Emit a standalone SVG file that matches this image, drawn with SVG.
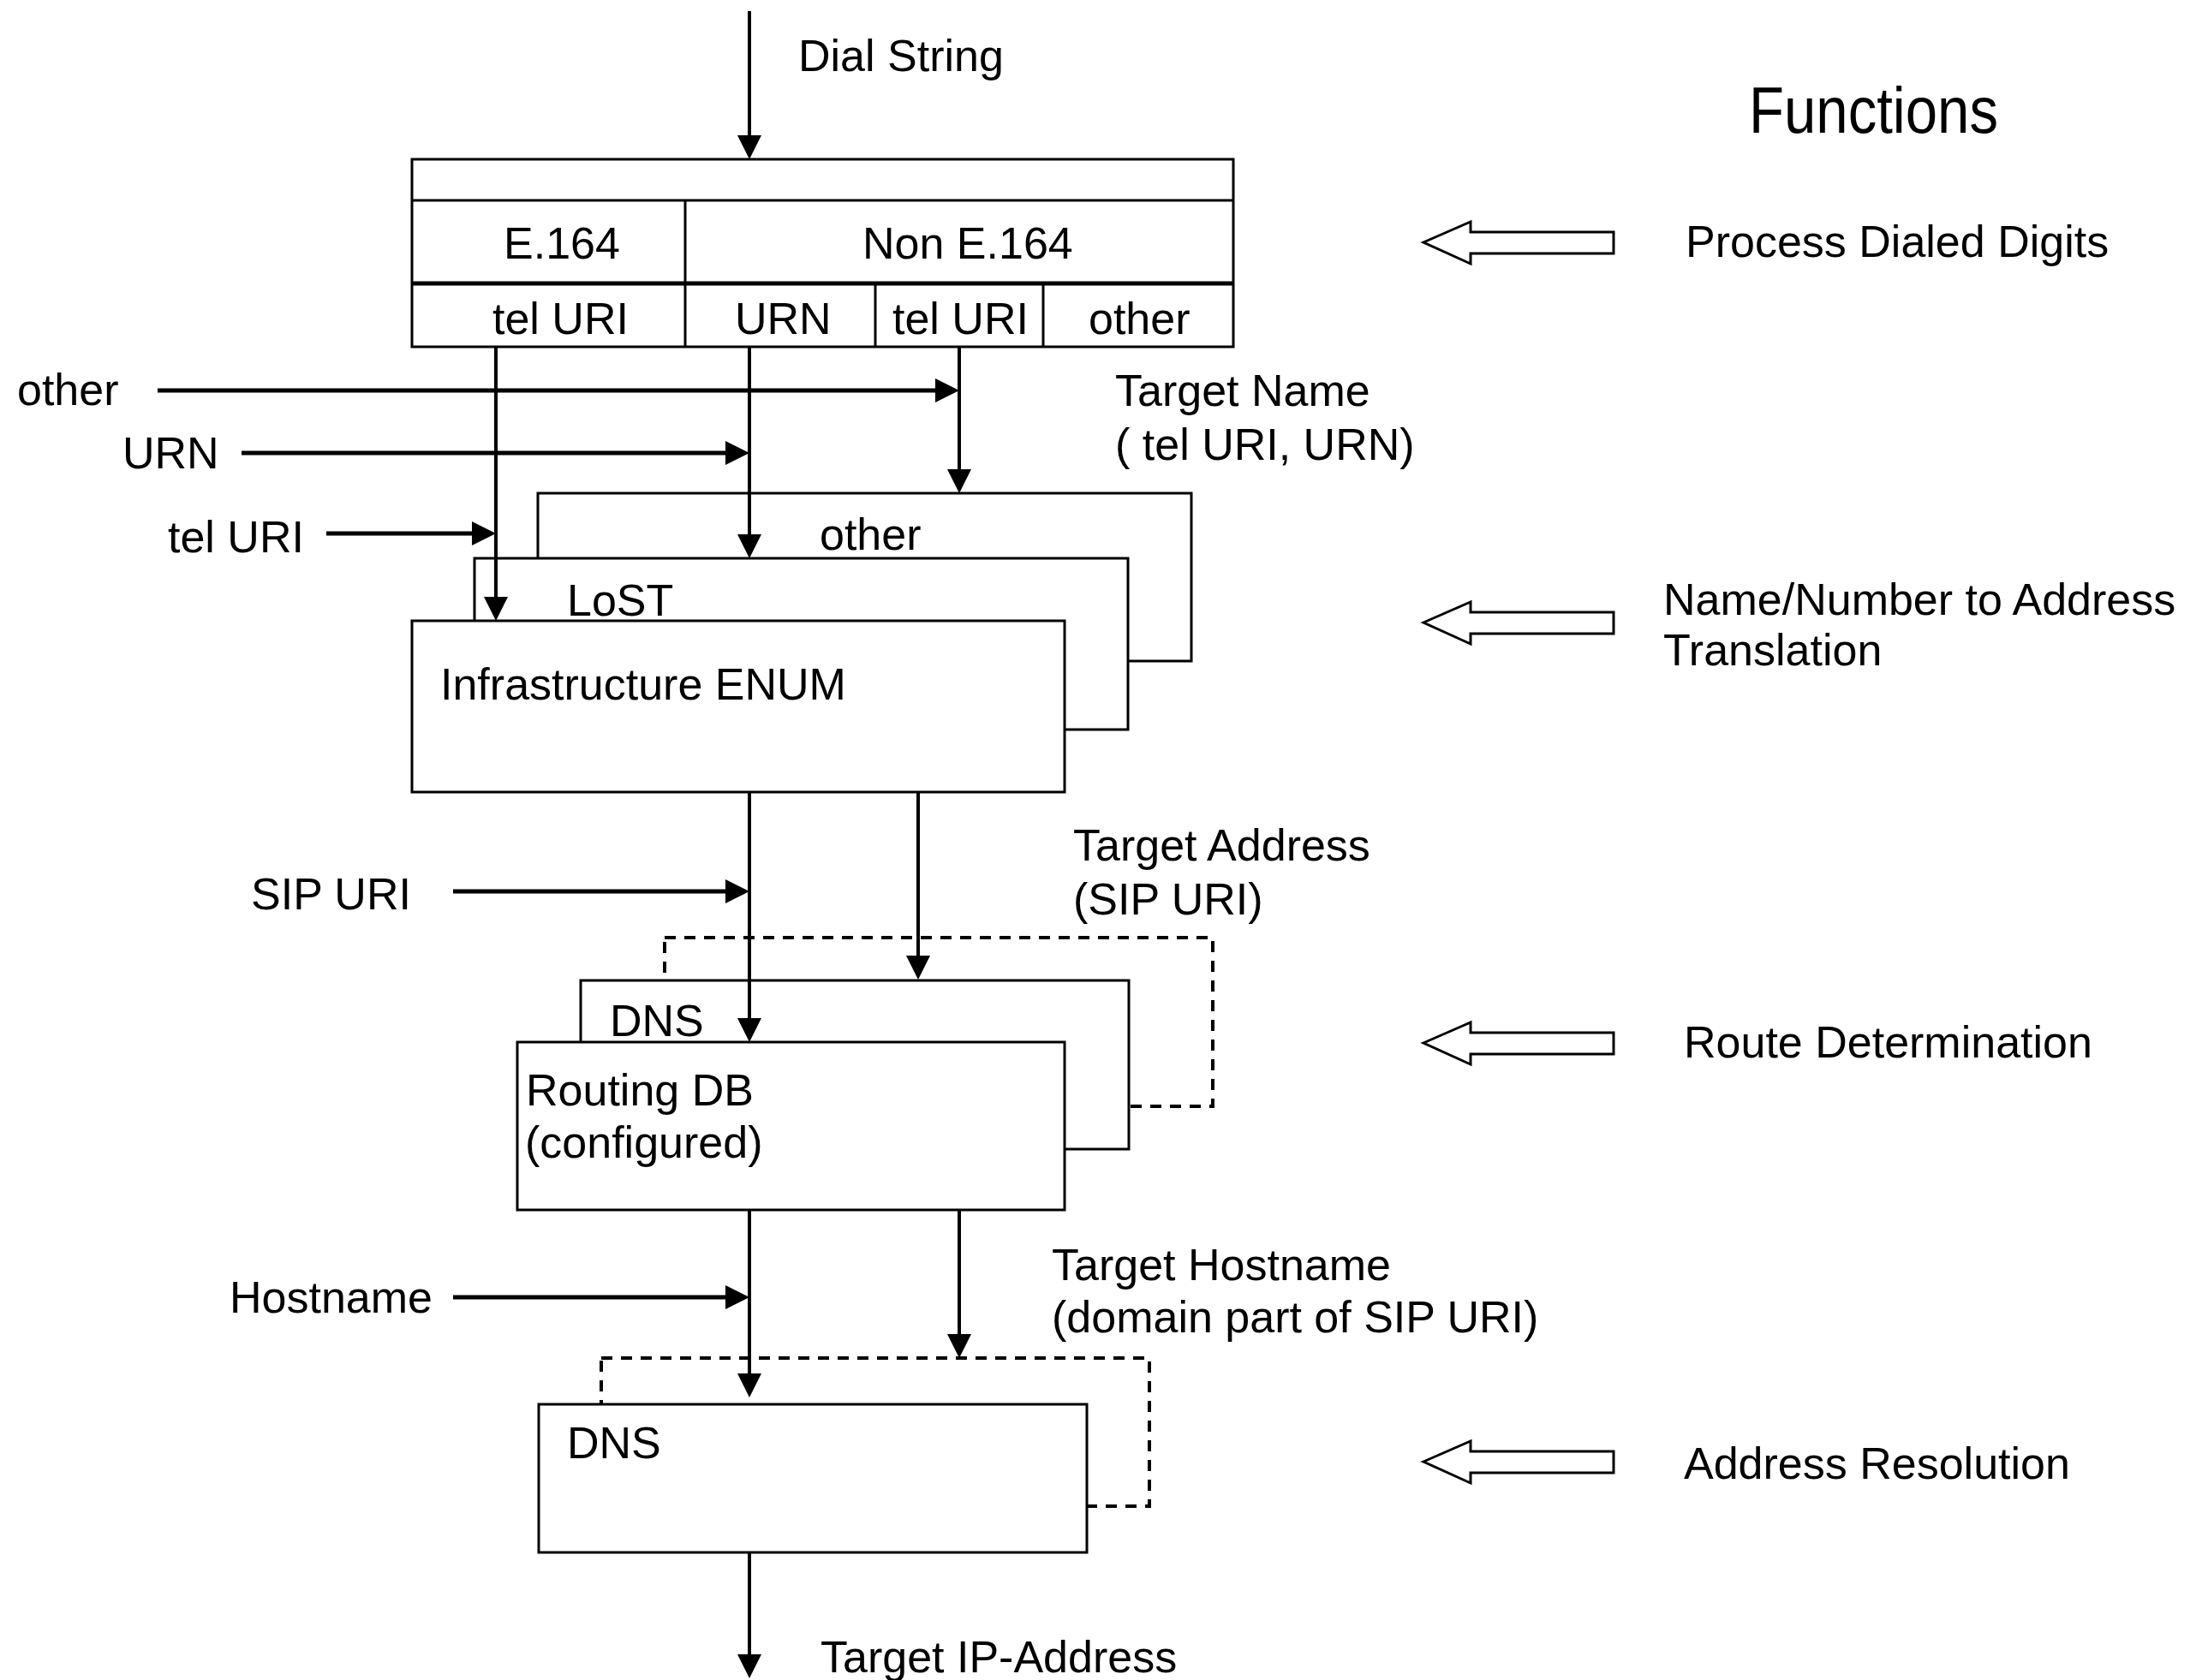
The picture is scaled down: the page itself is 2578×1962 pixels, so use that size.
<svg xmlns="http://www.w3.org/2000/svg" xmlns:xlink="http://www.w3.org/1999/xlink" width="2578" height="1962" viewBox="0 0 2578 1962">
<style>
text{font-family:"Liberation Sans",Arial,sans-serif;font-size:52px;fill:#000}
.box{fill:#fff;stroke:#000;stroke-width:3}
.dash{fill:#fff;stroke:#000;stroke-width:4;stroke-dasharray:13 10}
.ln{stroke:#000;stroke-width:3;fill:none}
.thick{stroke:#000;stroke-width:5;fill:none}
.v{stroke:#000;stroke-width:4;fill:none;marker-end:url(#ah)}
.h{stroke:#000;stroke-width:5;fill:none;marker-end:url(#ah)}
.hollow{fill:#fff;stroke:#000;stroke-width:3;stroke-linejoin:miter}
</style>
<defs>
<marker id="ah" markerUnits="userSpaceOnUse" markerWidth="30" markerHeight="30" refX="18" refY="14" orient="auto" overflow="visible">
<path d="M0,0 L28,14 L0,28 z" fill="#000"/>
</marker>
<polygon id="harrow" points="0,0 55,-24 55,-12 222,-12 222,13 55,13 55,25"/>
</defs>
<rect width="2578" height="1962" fill="#fff"/>

<g id="table">
<rect class="box" x="481" y="186" width="959" height="219"/>
<line class="ln" x1="481" y1="234" x2="1440" y2="234"/>
<line class="thick" x1="481" y1="331" x2="1440" y2="331"/>
<line class="ln" x1="800" y1="234" x2="800" y2="405"/>
<line class="ln" x1="1022" y1="331" x2="1022" y2="405"/>
<line class="ln" x1="1218" y1="331" x2="1218" y2="405"/>
<text x="588" y="302">E.164</text>
<text x="1007" y="302">Non E.164</text>
<text x="575" y="390">tel URI</text>
<text x="858" y="390">URN</text>
<text x="1042" y="390">tel URI</text>
<text x="1271" y="390">other</text>
</g>

<g id="other-box">
<rect class="box" x="628" y="576" width="763" height="196"/>
<text x="957" y="642">other</text>
</g>
<g id="lost-box">
<rect class="box" x="554" y="652" width="763" height="200"/>
<text x="662" y="719">LoST</text>
</g>
<g id="enum-box">
<rect class="box" x="481" y="725" width="762" height="200"/>
<text x="514" y="817">Infrastructure ENUM</text>
</g>

<g id="route-dashed">
<rect class="dash" x="776" y="1095" width="640" height="197"/>
</g>
<g id="dns-route">
<rect class="box" x="678" y="1145" width="640" height="197"/>
<text x="712" y="1210">DNS</text>
</g>
<g id="routing-db">
<rect class="box" x="604" y="1217" width="639" height="196"/>
<text x="614" y="1291">Routing DB</text>
<text x="613" y="1352">(configured)</text>
</g>

<g id="addr-dashed">
<rect class="dash" x="702" y="1586" width="640" height="173"/>
</g>
<g id="dns-addr">
<rect class="box" x="629" y="1640" width="640" height="173"/>
<text x="662" y="1703">DNS</text>
</g>

<g id="connectors">
<line class="v" x1="875" y1="13" x2="875" y2="176"/>
<line class="v" x1="579" y1="404" x2="579" y2="715"/>
<line class="v" x1="875" y1="404" x2="875" y2="642"/>
<line class="v" x1="1120" y1="404" x2="1120" y2="566"/>
<line class="h" x1="184" y1="456" x2="1110" y2="456"/>
<line class="h" x1="282" y1="529" x2="865" y2="529"/>
<line class="h" x1="381" y1="623" x2="569" y2="623"/>
<line class="v" x1="875" y1="924" x2="875" y2="1207"/>
<line class="v" x1="1072" y1="924" x2="1072" y2="1134"/>
<line class="h" x1="529" y1="1041" x2="865" y2="1041"/>
<line class="v" x1="875" y1="1412" x2="875" y2="1622"/>
<line class="v" x1="1120" y1="1412" x2="1120" y2="1576"/>
<line class="h" x1="529" y1="1515" x2="865" y2="1515"/>
<line class="v" x1="875" y1="1812" x2="875" y2="1950"/>
</g>

<g id="labels">
<text x="932" y="83">Dial String</text>
<text x="20" y="473">other</text>
<text x="143" y="547">URN</text>
<text x="196" y="645">tel URI</text>
<text x="1302" y="474">Target Name</text>
<text x="1302" y="537">( tel URI, URN)</text>
<text x="293" y="1062">SIP URI</text>
<text x="1253" y="1005">Target Address</text>
<text x="1253" y="1068">(SIP URI)</text>
<text x="268" y="1533">Hostname</text>
<text x="1228" y="1495">Target Hostname</text>
<text x="1228" y="1556">(domain part of SIP URI)</text>
<text x="958" y="1953">Target IP-Address</text>
</g>

<g id="functions">
<text x="2042" y="155" style="font-size:76px" textLength="291" lengthAdjust="spacingAndGlyphs">Functions</text>
<use xlink:href="#harrow" class="hollow" x="1662" y="283"/>
<text x="1968" y="300">Process Dialed Digits</text>
<use xlink:href="#harrow" class="hollow" x="1662" y="727"/>
<text x="1942" y="718">Name/Number to Address</text>
<text x="1942" y="777">Translation</text>
<use xlink:href="#harrow" class="hollow" x="1662" y="1218"/>
<text x="1966" y="1235">Route Determination</text>
<use xlink:href="#harrow" class="hollow" x="1662" y="1707"/>
<text x="1966" y="1727">Address Resolution</text>
</g>
</svg>
